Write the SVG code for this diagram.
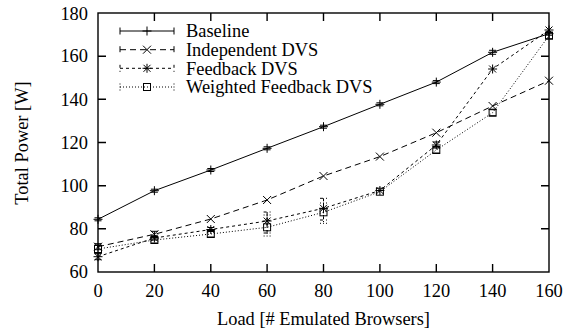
<svg xmlns="http://www.w3.org/2000/svg" width="570" height="332" viewBox="0 0 570 332">
<style>
.t{font-size:18.4px;fill:#000}
.ax{fill:none;stroke:#000;stroke-width:1.4}
.s{fill:none;stroke:#000;stroke-width:1}
.i{stroke-dasharray:6,4}
.f{stroke-dasharray:3,3}
.w{stroke-dasharray:1,2}
.m{fill:none;stroke:#000;stroke-width:1}
</style>
<defs>
<path id="mp" d="M-4.5,0h9M0,-4.5v9"/>
<path id="mx" d="M-4,-4l8,8M-4,4l8,-8"/>
<path id="ms" d="M-4.5,0h9M0,-4.5v9M-3.5,-3.5l7,7M-3.5,3.5l7,-7"/>
<rect id="mq" x="-3.5" y="-3.5" width="7" height="7"/>
</defs>
<rect width="570" height="332" fill="#fff"/>
<g id="axes">
<rect class="ax" x="98" y="13" width="451" height="259"/>
<path class="ax" d="M98,228.8h8M549,228.8h-8M98,185.7h8M549,185.7h-8M98,142.5h8M549,142.5h-8M98,99.3h8M549,99.3h-8M98,56.2h8M549,56.2h-8M154.4,272v-8M154.4,13v8M210.8,272v-8M210.8,13v8M267.1,272v-8M267.1,13v8M323.5,272v-8M323.5,13v8M379.9,272v-8M379.9,13v8M436.3,272v-8M436.3,13v8M492.6,272v-8M492.6,13v8"/>
<g class="t" font-family="Liberation Serif, serif" text-anchor="end">
<text x="88" y="278">60</text>
<text x="88" y="235">80</text>
<text x="88" y="192">100</text>
<text x="88" y="148.5">120</text>
<text x="88" y="105.5">140</text>
<text x="88" y="62">160</text>
<text x="88" y="19.5">180</text>
</g>
<g class="t" font-family="Liberation Serif, serif" text-anchor="middle">
<text x="98" y="297">0</text>
<text x="154.4" y="297">20</text>
<text x="210.8" y="297">40</text>
<text x="267.1" y="297">60</text>
<text x="323.5" y="297">80</text>
<text x="379.9" y="297">100</text>
<text x="436.3" y="297">120</text>
<text x="492.6" y="297">140</text>
<text x="549" y="297">160</text>
<text x="323.5" y="325">Load [# Emulated Browsers]</text>
<text transform="translate(28,143) rotate(-90)">Total Power [W]</text>
</g>
</g>
<g id="legend">
<g class="t" font-family="Liberation Serif, serif">
<text x="186" y="37">Baseline</text>
<text x="186" y="56">Independent DVS</text>
<text x="186" y="74.5">Feedback DVS</text>
<text x="186" y="93">Weighted Feedback DVS</text>
</g>
<path class="s" d="M120,31H174M120,27.5v7M174,27.5v7"/>
<path class="s i" d="M120,49.7H174M120,46.2v7M174,46.2v7"/>
<path class="s f" d="M120,68.3H174M120,64.8v7M174,64.8v7"/>
<path class="s w" d="M120,87H174M120,83.5v7M174,83.5v7"/>
<use href="#mp" class="m" x="147" y="31"/>
<use href="#mx" class="m" x="147" y="49.7"/>
<use href="#ms" class="m" x="147" y="68.3"/>
<use href="#mq" class="m" x="147" y="87"/>
</g>
<g id="connectors">
<g id="baseline">
<polyline class="s" points="98,219.3 154.4,190.7 210.8,170 267.1,148.3 323.5,126.7 379.9,104.3 436.3,82.1 492.6,52.3 549,33.7"/>
<path class="s" d="M94.5,217.8h7M94.5,220.8h7M150.9,189.2h7M150.9,192.2h7M207.3,168.5h7M207.3,171.5h7M263.6,146.8h7M263.6,149.8h7M320,125.2h7M320,128.2h7M376.4,102.8h7M376.4,105.8h7M432.8,80.6h7M432.8,83.6h7M489.1,50.3h7M489.1,54.3h7M545.5,32.2h7M545.5,35.2h7"/>
<g class="m">
<use href="#mp" x="98" y="219.3"/><use href="#mp" x="154.4" y="190.7"/><use href="#mp" x="210.8" y="170"/><use href="#mp" x="267.1" y="148.3"/><use href="#mp" x="323.5" y="126.7"/><use href="#mp" x="379.9" y="104.3"/><use href="#mp" x="436.3" y="82.1"/><use href="#mp" x="492.6" y="52.3"/><use href="#mp" x="549" y="33.7"/>
</g>
</g>
<g id="independent">
<polyline class="s i" points="98,246.7 154.4,234.3 210.8,219 267.1,200 323.5,176 379.9,156.6 436.3,132.7 492.6,106 549,80.7"/>
<path class="s" d="M98,243.7v6M94.5,243.7h7M94.5,249.7h7M154.4,231.3v6M150.9,231.3h7M150.9,237.3h7"/>
<g class="m">
<use href="#mx" x="98" y="246.7"/><use href="#mx" x="154.4" y="234.3"/><use href="#mx" x="210.8" y="219"/><use href="#mx" x="267.1" y="200"/><use href="#mx" x="323.5" y="176"/><use href="#mx" x="379.9" y="156.6"/><use href="#mx" x="436.3" y="132.7"/><use href="#mx" x="492.6" y="106"/><use href="#mx" x="549" y="80.7"/>
</g>
</g>
<g id="feedback">
<polyline class="s f" points="98,256.7 154.4,238 210.8,229.5 267.1,221 323.5,208.3 379.9,190.5 436.3,145 492.6,69 549,30"/>
<path class="s f" d="M267.1,212V233M263.6,212h7M263.6,233h7M323.5,198.3V220M320,198.3h7M320,220h7"/>
<path class="s" d="M94.5,253.7h7M94.5,259.7h7M150.9,236h7M150.9,240h7M207.3,227.5h7M207.3,231.5h7M432.8,142h7M432.8,148h7"/>
<g class="m">
<use href="#ms" x="98" y="256.7"/><use href="#ms" x="154.4" y="238"/><use href="#ms" x="210.8" y="229.5"/><use href="#ms" x="267.1" y="221"/><use href="#ms" x="323.5" y="208.3"/><use href="#ms" x="379.9" y="190.5"/><use href="#ms" x="436.3" y="145"/><use href="#ms" x="492.6" y="69"/><use href="#ms" x="549" y="30"/>
</g>
</g>
<g id="weighted">
<polyline class="s w" points="98,249 154.4,240 210.8,234 267.1,227.3 323.5,212.3 379.9,191.7 436.3,150 492.6,112.7 549,35.7"/>
<path class="s w" d="M267.1,215V236M263.6,215h7M263.6,236h7M323.5,203V223.3M320,203h7M320,223.3h7"/>
<path class="s" d="M94.5,245h7M94.5,253h7M150.9,237h7M150.9,243h7M207.3,231h7M207.3,237h7M432.8,147h7M432.8,153h7M489.1,109.7h7M489.1,115.7h7M545.5,32.7h7M545.5,38.7h7"/>
<g class="m">
<use href="#mq" x="98" y="249"/><use href="#mq" x="154.4" y="240"/><use href="#mq" x="210.8" y="234"/><use href="#mq" x="267.1" y="227.3"/><use href="#mq" x="323.5" y="212.3"/><use href="#mq" x="379.9" y="191.7"/><use href="#mq" x="436.3" y="150"/><use href="#mq" x="492.6" y="112.7"/><use href="#mq" x="549" y="35.7"/>
</g>
</g>
</g>
</svg>
